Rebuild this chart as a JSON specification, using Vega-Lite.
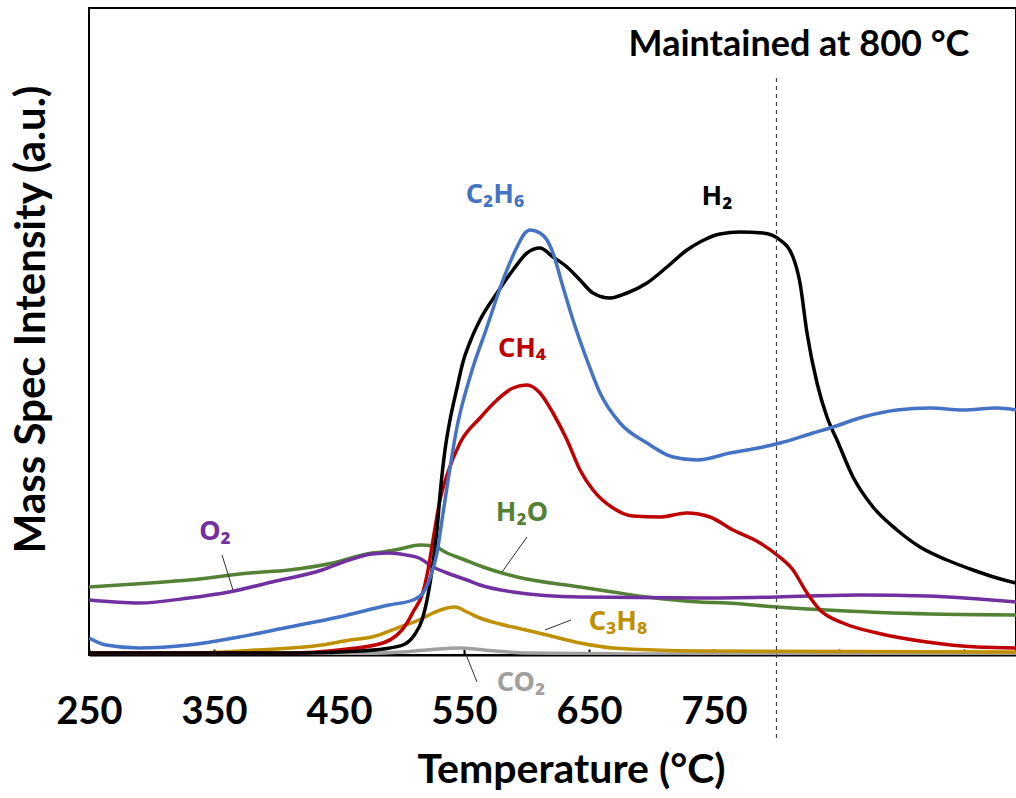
{
  "$schema": "https://vega.github.io/schema/vega-lite/v6.json",
  "width": 927,
  "height": 647,
  "autosize": {"type": "none"},
  "padding": {"left": 89, "top": 8, "right": 0, "bottom": 143},
  "background": "white",
  "config": {"view": {"stroke": "black", "strokeWidth": 2}, "font": "Lato"},
  "datasets": {
    "curves": [
      {"s": "CO2", "t": 250, "v": 1}, {"s": "CO2", "t": 450, "v": 1}, {"s": "CO2", "t": 500, "v": 3}, {"s": "CO2", "t": 520, "v": 5}, {"s": "CO2", "t": 547, "v": 7}, {"s": "CO2", "t": 575, "v": 4}, {"s": "CO2", "t": 600, "v": 2}, {"s": "CO2", "t": 700, "v": 1}, {"s": "CO2", "t": 991.6, "v": 1},
      {"s": "C3H8", "t": 250, "v": 2}, {"s": "C3H8", "t": 330, "v": 2}, {"s": "C3H8", "t": 383.6, "v": 5}, {"s": "C3H8", "t": 436.4, "v": 10}, {"s": "C3H8", "t": 458.8, "v": 15}, {"s": "C3H8", "t": 476.4, "v": 18}, {"s": "C3H8", "t": 498.8, "v": 28}, {"s": "C3H8", "t": 514, "v": 35}, {"s": "C3H8", "t": 525.2, "v": 42}, {"s": "C3H8", "t": 536.4, "v": 47}, {"s": "C3H8", "t": 542.8, "v": 48}, {"s": "C3H8", "t": 552.4, "v": 43}, {"s": "C3H8", "t": 562.8, "v": 37}, {"s": "C3H8", "t": 578.8, "v": 31}, {"s": "C3H8", "t": 596, "v": 26}, {"s": "C3H8", "t": 616.4, "v": 20}, {"s": "C3H8", "t": 642.8, "v": 12}, {"s": "C3H8", "t": 669.2, "v": 7}, {"s": "C3H8", "t": 738.8, "v": 4}, {"s": "C3H8", "t": 991.6, "v": 3},
      {"s": "H2O", "t": 250, "v": 68}, {"s": "H2O", "t": 298.8, "v": 72}, {"s": "H2O", "t": 330, "v": 75}, {"s": "H2O", "t": 378.8, "v": 82}, {"s": "H2O", "t": 410, "v": 85}, {"s": "H2O", "t": 445.2, "v": 92}, {"s": "H2O", "t": 476.4, "v": 102}, {"s": "H2O", "t": 485.2, "v": 103}, {"s": "H2O", "t": 498.8, "v": 106}, {"s": "H2O", "t": 514.8, "v": 110}, {"s": "H2O", "t": 525.2, "v": 109}, {"s": "H2O", "t": 536.4, "v": 102}, {"s": "H2O", "t": 550.8, "v": 95}, {"s": "H2O", "t": 565.2, "v": 88}, {"s": "H2O", "t": 592.4, "v": 78}, {"s": "H2O", "t": 642.8, "v": 68}, {"s": "H2O", "t": 669, "v": 63}, {"s": "H2O", "t": 696.4, "v": 58}, {"s": "H2O", "t": 738.8, "v": 53}, {"s": "H2O", "t": 760.4, "v": 52}, {"s": "H2O", "t": 800.4, "v": 48}, {"s": "H2O", "t": 840.4, "v": 45}, {"s": "H2O", "t": 893.2, "v": 42}, {"s": "H2O", "t": 991.6, "v": 40},
      {"s": "O2", "t": 250, "v": 55}, {"s": "O2", "t": 290, "v": 52}, {"s": "O2", "t": 330, "v": 57}, {"s": "O2", "t": 362, "v": 63}, {"s": "O2", "t": 396.4, "v": 73}, {"s": "O2", "t": 436.4, "v": 85}, {"s": "O2", "t": 458, "v": 95}, {"s": "O2", "t": 476.4, "v": 101}, {"s": "O2", "t": 490.8, "v": 102}, {"s": "O2", "t": 503.6, "v": 100}, {"s": "O2", "t": 514, "v": 97}, {"s": "O2", "t": 525.2, "v": 88}, {"s": "O2", "t": 536.4, "v": 82}, {"s": "O2", "t": 552.4, "v": 75}, {"s": "O2", "t": 562.8, "v": 70}, {"s": "O2", "t": 589.2, "v": 63}, {"s": "O2", "t": 642.8, "v": 58}, {"s": "O2", "t": 738.8, "v": 57}, {"s": "O2", "t": 800.4, "v": 58}, {"s": "O2", "t": 866.8, "v": 60}, {"s": "O2", "t": 920.4, "v": 59}, {"s": "O2", "t": 991.6, "v": 53},
      {"s": "CH4", "t": 250, "v": 2}, {"s": "CH4", "t": 410, "v": 2}, {"s": "CH4", "t": 450, "v": 5}, {"s": "CH4", "t": 485.2, "v": 12}, {"s": "CH4", "t": 504.4, "v": 32}, {"s": "CH4", "t": 509.2, "v": 43}, {"s": "CH4", "t": 517.2, "v": 63}, {"s": "CH4", "t": 521.2, "v": 85}, {"s": "CH4", "t": 525.2, "v": 115}, {"s": "CH4", "t": 530.8, "v": 155}, {"s": "CH4", "t": 536.4, "v": 180}, {"s": "CH4", "t": 546.8, "v": 212}, {"s": "CH4", "t": 562.8, "v": 237}, {"s": "CH4", "t": 576.4, "v": 255}, {"s": "CH4", "t": 589.2, "v": 267}, {"s": "CH4", "t": 600.4, "v": 270}, {"s": "CH4", "t": 610.8, "v": 262}, {"s": "CH4", "t": 621.2, "v": 242}, {"s": "CH4", "t": 632.4, "v": 215}, {"s": "CH4", "t": 642.8, "v": 185}, {"s": "CH4", "t": 653.2, "v": 165}, {"s": "CH4", "t": 669.2, "v": 147}, {"s": "CH4", "t": 685.2, "v": 139}, {"s": "CH4", "t": 706.8, "v": 138}, {"s": "CH4", "t": 728.4, "v": 142}, {"s": "CH4", "t": 746.8, "v": 138}, {"s": "CH4", "t": 765.2, "v": 125}, {"s": "CH4", "t": 786.8, "v": 112}, {"s": "CH4", "t": 800.4, "v": 100}, {"s": "CH4", "t": 813.2, "v": 85}, {"s": "CH4", "t": 824.4, "v": 62}, {"s": "CH4", "t": 834.8, "v": 45}, {"s": "CH4", "t": 853.2, "v": 32}, {"s": "CH4", "t": 880.4, "v": 22}, {"s": "CH4", "t": 920.4, "v": 13}, {"s": "CH4", "t": 960.4, "v": 8}, {"s": "CH4", "t": 991.6, "v": 7},
      {"s": "H2", "t": 250, "v": 2}, {"s": "H2", "t": 418.8, "v": 2}, {"s": "H2", "t": 466.8, "v": 4}, {"s": "H2", "t": 490.8, "v": 7}, {"s": "H2", "t": 502.8, "v": 11}, {"s": "H2", "t": 510.8, "v": 21}, {"s": "H2", "t": 516.4, "v": 35}, {"s": "H2", "t": 521.2, "v": 60}, {"s": "H2", "t": 525.2, "v": 92}, {"s": "H2", "t": 528.4, "v": 125}, {"s": "H2", "t": 530.8, "v": 160}, {"s": "H2", "t": 534.8, "v": 205}, {"s": "H2", "t": 538.8, "v": 235}, {"s": "H2", "t": 544.4, "v": 267}, {"s": "H2", "t": 549.2, "v": 293}, {"s": "H2", "t": 554.8, "v": 313}, {"s": "H2", "t": 562.8, "v": 335}, {"s": "H2", "t": 576.4, "v": 362}, {"s": "H2", "t": 589.2, "v": 385}, {"s": "H2", "t": 600.4, "v": 402}, {"s": "H2", "t": 610.8, "v": 407}, {"s": "H2", "t": 621.2, "v": 398}, {"s": "H2", "t": 632.4, "v": 388}, {"s": "H2", "t": 642.8, "v": 375}, {"s": "H2", "t": 653.2, "v": 362}, {"s": "H2", "t": 666.8, "v": 357}, {"s": "H2", "t": 680.4, "v": 362}, {"s": "H2", "t": 696.4, "v": 372}, {"s": "H2", "t": 712.4, "v": 388}, {"s": "H2", "t": 728.4, "v": 405}, {"s": "H2", "t": 738.8, "v": 413}, {"s": "H2", "t": 754.8, "v": 421}, {"s": "H2", "t": 770.8, "v": 423}, {"s": "H2", "t": 789.2, "v": 422}, {"s": "H2", "t": 802.8, "v": 415}, {"s": "H2", "t": 813.2, "v": 398}, {"s": "H2", "t": 818.8, "v": 372}, {"s": "H2", "t": 824.4, "v": 322}, {"s": "H2", "t": 832.4, "v": 272}, {"s": "H2", "t": 840.4, "v": 238}, {"s": "H2", "t": 848.4, "v": 215}, {"s": "H2", "t": 861.2, "v": 178}, {"s": "H2", "t": 877.2, "v": 148}, {"s": "H2", "t": 896.4, "v": 125}, {"s": "H2", "t": 914.8, "v": 108}, {"s": "H2", "t": 936.4, "v": 95}, {"s": "H2", "t": 957.2, "v": 85}, {"s": "H2", "t": 976.4, "v": 77}, {"s": "H2", "t": 991.6, "v": 72},
      {"s": "C2H6", "t": 250, "v": 17}, {"s": "C2H6", "t": 263.6, "v": 10}, {"s": "C2H6", "t": 290, "v": 7}, {"s": "C2H6", "t": 330, "v": 10}, {"s": "C2H6", "t": 370, "v": 18}, {"s": "C2H6", "t": 410, "v": 28}, {"s": "C2H6", "t": 450, "v": 38}, {"s": "C2H6", "t": 490, "v": 50}, {"s": "C2H6", "t": 509.2, "v": 55}, {"s": "C2H6", "t": 517.2, "v": 62}, {"s": "C2H6", "t": 522.8, "v": 77}, {"s": "C2H6", "t": 528.4, "v": 102}, {"s": "C2H6", "t": 532.4, "v": 135}, {"s": "C2H6", "t": 536.4, "v": 168}, {"s": "C2H6", "t": 544.4, "v": 228}, {"s": "C2H6", "t": 554.8, "v": 278}, {"s": "C2H6", "t": 568.4, "v": 328}, {"s": "C2H6", "t": 581.2, "v": 375}, {"s": "C2H6", "t": 592.4, "v": 408}, {"s": "C2H6", "t": 598.8, "v": 422}, {"s": "C2H6", "t": 602.8, "v": 425}, {"s": "C2H6", "t": 610.8, "v": 422}, {"s": "C2H6", "t": 616.4, "v": 415}, {"s": "C2H6", "t": 621.2, "v": 402}, {"s": "C2H6", "t": 629.2, "v": 368}, {"s": "C2H6", "t": 637.2, "v": 335}, {"s": "C2H6", "t": 648.4, "v": 295}, {"s": "C2H6", "t": 658.8, "v": 262}, {"s": "C2H6", "t": 674.8, "v": 232}, {"s": "C2H6", "t": 696.4, "v": 212}, {"s": "C2H6", "t": 717.2, "v": 198}, {"s": "C2H6", "t": 736.4, "v": 195}, {"s": "C2H6", "t": 762.8, "v": 202}, {"s": "C2H6", "t": 789.2, "v": 208}, {"s": "C2H6", "t": 802.8, "v": 212}, {"s": "C2H6", "t": 829.2, "v": 222}, {"s": "C2H6", "t": 845.2, "v": 228}, {"s": "C2H6", "t": 869.2, "v": 238}, {"s": "C2H6", "t": 896.4, "v": 245}, {"s": "C2H6", "t": 922.8, "v": 247}, {"s": "C2H6", "t": 949.2, "v": 245}, {"s": "C2H6", "t": 976.4, "v": 247}, {"s": "C2H6", "t": 991.6, "v": 245}
    ],
    "labels": [
      {"s": "C2H6", "label": "C₂H₆", "t": 574.8, "v": 460},
      {"s": "H2", "label": "H₂", "t": 752.4, "v": 458},
      {"s": "CH4", "label": "CH₄", "t": 596.4, "v": 306},
      {"s": "H2O", "label": "H₂O", "t": 596.4, "v": 142},
      {"s": "O2", "label": "O₂", "t": 350.8, "v": 123},
      {"s": "C3H8", "label": "C₃H₈", "t": 673.2, "v": 33},
      {"s": "CO2", "label": "CO₂", "t": 595.6, "v": -28}
    ],
    "leaders": [
      {"t": 356.4, "v": 100, "t2": 365.2, "v2": 65},
      {"t": 600.4, "v": 118, "t2": 580.4, "v2": 83},
      {"t": 635.6, "v": 35, "t2": 614.8, "v2": 25},
      {"t": 550.8, "v": 3, "t2": 560.4, "v2": -27}
    ]
  },
  "layer": [
    {
      "data": {"name": "curves"},
      "mark": {"type": "line", "strokeWidth": 3.5, "interpolate": "monotone", "clip": true},
      "encoding": {
        "x": {"field": "t", "type": "quantitative",
          "scale": {"domain": [250, 991.6], "nice": false, "zero": false},
          "axis": {"values": [250, 350, 450, 550, 650, 750, 850, 950],
            "labelExpr": "datum.value <= 750 ? datum.label : ''",
            "format": "d", "grid": false, "tickSize": -6, "tickWidth": 2, "tickColor": "black",
            "domainColor": "black", "domainWidth": 2, "labelFlush": false, "labelOverlap": false,
            "labelFont": "Lato", "labelFontSize": 38, "labelFontWeight": "bold", "labelColor": "black",
            "labelPadding": 44, "labelBaseline": "top",
            "title": "Temperature (°C)", "titleFont": "Lato", "titleFontSize": 41, "titleFontWeight": "bold",
            "titleColor": "black", "titleX": 482, "titleY": 115, "titleBaseline": "middle", "titleAlign": "center"}},
        "y": {"field": "v", "type": "quantitative",
          "scale": {"domain": [0, 647], "nice": false, "zero": false},
          "axis": {"labels": false, "ticks": false, "grid": false, "domain": false,
            "title": "Mass Spec Intensity (a.u.)", "titleFont": "Lato", "titleFontSize": 42, "titleFontWeight": "bold",
            "titleColor": "black", "titleX": -58, "titleY": 311, "titleBaseline": "middle", "titleAlign": "center", "titleAngle": -90}},
        "color": {"field": "s", "type": "nominal", "legend": null,
          "scale": {"domain": ["CO2", "C3H8", "H2O", "O2", "CH4", "H2", "C2H6"],
            "range": ["#A0A0A0", "#BF9000", "#548235", "#7030A0", "#C00000", "#000000", "#4472C4"]}}
      }
    },
    {
      "data": {"values": [{"t": 800, "v": -83, "v2": 580}]},
      "mark": {"type": "rule", "strokeDash": [4, 4], "stroke": "#404040", "strokeWidth": 1.2},
      "encoding": {
        "x": {"field": "t", "type": "quantitative"},
        "y": {"field": "v", "type": "quantitative"},
        "y2": {"field": "v2"}
      }
    },
    {
      "data": {"name": "leaders"},
      "mark": {"type": "rule", "stroke": "#303030", "strokeWidth": 1},
      "encoding": {
        "x": {"field": "t", "type": "quantitative"},
        "y": {"field": "v", "type": "quantitative"},
        "x2": {"field": "t2"},
        "y2": {"field": "v2"}
      }
    },
    {
      "data": {"name": "labels"},
      "mark": {"type": "text", "font": "Noto Sans", "fontSize": 27, "fontWeight": "bold", "align": "center", "baseline": "middle"},
      "encoding": {
        "x": {"field": "t", "type": "quantitative"},
        "y": {"field": "v", "type": "quantitative"},
        "text": {"field": "label"},
        "color": {"field": "s", "type": "nominal", "legend": null}
      }
    },
    {
      "data": {"values": [{"t": 818, "v": 610, "label": "Maintained at 800 °C"}]},
      "mark": {"type": "text", "font": "Lato", "fontSize": 36, "fontWeight": "bold", "align": "center", "baseline": "middle", "color": "black"},
      "encoding": {
        "x": {"field": "t", "type": "quantitative"},
        "y": {"field": "v", "type": "quantitative"},
        "text": {"field": "label"}
      }
    }
  ]
}
